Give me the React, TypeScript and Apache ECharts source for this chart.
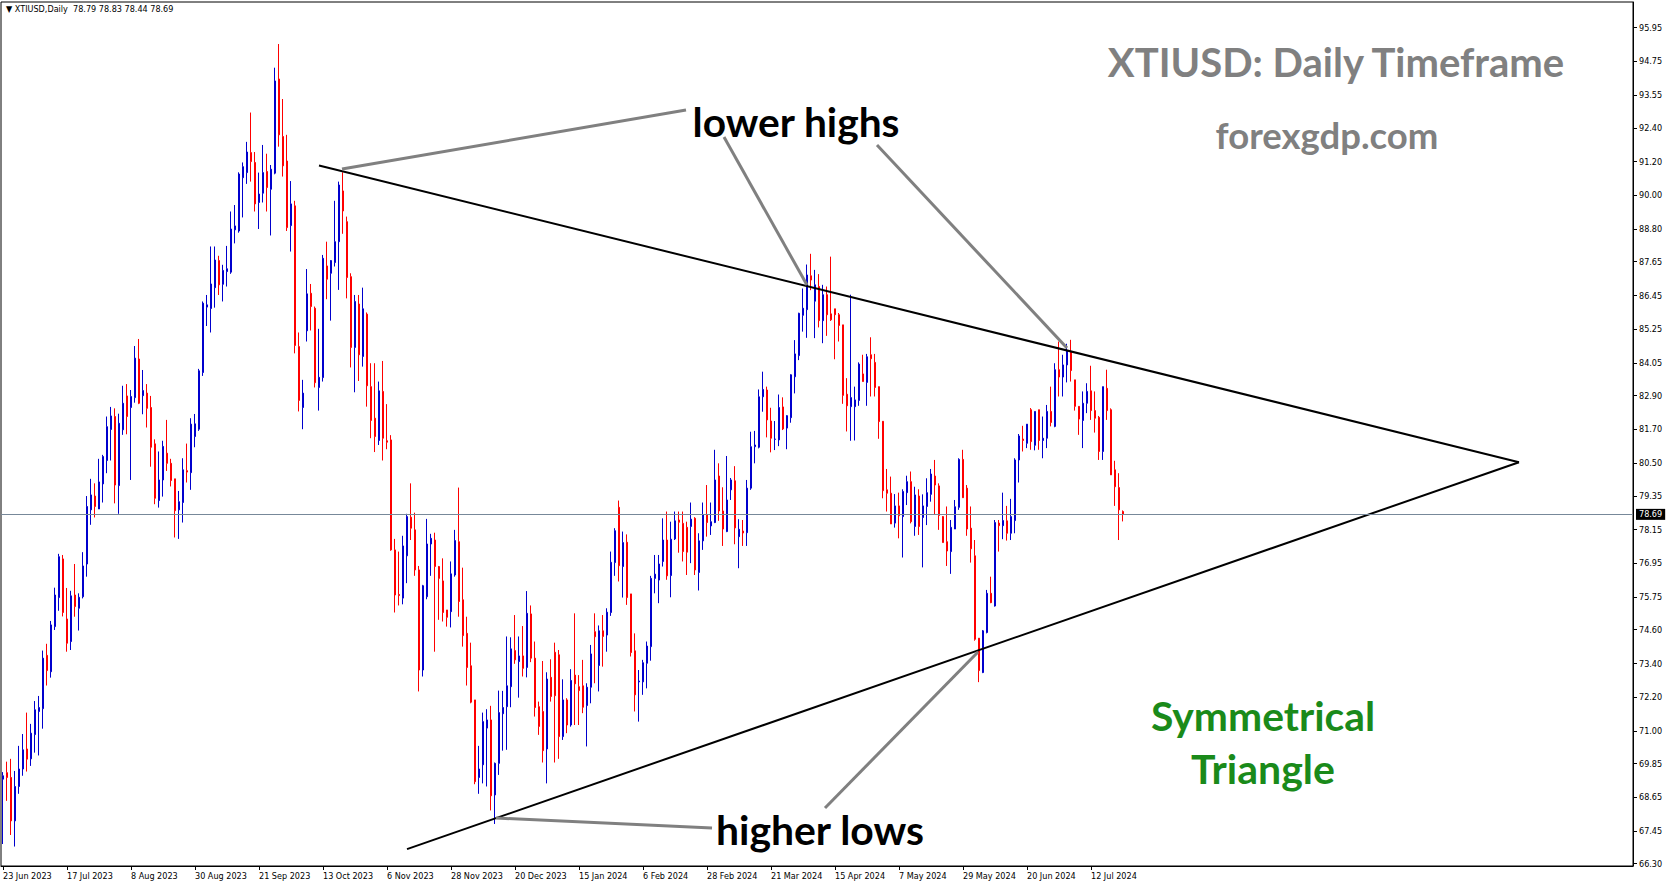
import React, { useEffect, useRef } from "react";
import * as echarts from "echarts";

// X-axis labels (one every 16 daily bars, starting at the first bar)
const tickLabels = [
  "23 Jun 2023", "17 Jul 2023", "8 Aug 2023", "30 Aug 2023", "21 Sep 2023", "13 Oct 2023",
  "6 Nov 2023", "28 Nov 2023", "20 Dec 2023", "15 Jan 2024", "6 Feb 2024", "28 Feb 2024",
  "21 Mar 2024", "15 Apr 2024", "7 May 2024", "29 May 2024", "20 Jun 2024", "12 Jul 2024",
];
const TICK_STEP = 16;

// Price-scale labels
const yTicks = [
  95.95, 94.75, 93.55, 92.4, 91.2, 90.0, 88.8, 87.65, 86.45, 85.25, 84.05, 82.9, 81.7,
  80.5, 79.35, 78.15, 76.95, 75.75, 74.6, 73.4, 72.2, 71.0, 69.85, 68.65, 67.45, 66.3,
];

// Daily candles [open, close, low, high]
const candlesJunSep2023 = [
  [69.30, 69.42, 67.00, 69.55], [69.53, 69.36, 68.53, 69.92], [69.36, 67.82, 67.32, 70.02], [67.82, 69.04, 66.91, 69.59],
  [69.04, 69.66, 68.78, 70.48], [69.66, 70.34, 69.42, 70.90], [70.37, 70.01, 69.57, 71.66], [70.02, 70.93, 69.77, 71.26],
  [70.88, 71.76, 70.24, 72.07], [71.70, 71.84, 70.14, 72.25], [71.80, 73.59, 71.09, 73.86], [73.69, 73.15, 72.62, 74.10],
  [73.11, 74.77, 72.90, 74.91], [74.71, 75.83, 74.59, 76.09], [75.74, 77.19, 75.27, 77.29], [77.11, 75.21, 75.07, 77.25],
  [74.98, 74.12, 73.82, 76.08], [74.18, 75.80, 73.88, 75.98], [75.83, 75.42, 75.06, 76.93], [75.36, 75.75, 74.57, 75.89],
  [75.77, 76.86, 75.71, 77.35], [76.93, 78.97, 76.48, 79.34], [78.85, 79.38, 78.32, 79.95], [79.34, 78.97, 78.58, 79.79],
  [78.88, 79.84, 78.88, 80.66], [79.77, 80.74, 79.11, 80.80], [80.60, 81.80, 80.15, 82.16], [81.70, 82.18, 80.60, 82.50],
  [82.16, 79.73, 79.08, 82.45], [79.71, 81.92, 78.71, 82.26], [81.69, 82.63, 81.51, 83.25], [82.89, 82.16, 81.53, 83.31],
  [82.48, 82.87, 79.91, 83.10], [82.83, 84.23, 82.65, 84.66], [84.20, 82.63, 82.60, 84.91], [82.90, 83.08, 82.24, 83.81],
  [82.99, 82.45, 81.77, 83.31], [82.48, 81.07, 80.38, 82.89], [81.19, 79.26, 79.05, 81.35], [79.18, 79.91, 78.93, 80.92],
  [79.91, 81.10, 79.32, 81.30], [80.86, 80.50, 80.23, 82.04], [80.50, 79.89, 79.68, 80.66], [79.95, 78.82, 77.87, 79.95],
  [78.85, 79.14, 77.82, 79.52], [79.11, 80.27, 78.40, 80.68], [80.24, 80.19, 79.82, 81.20], [80.17, 81.89, 79.56, 82.10],
  [81.45, 81.90, 81.07, 82.25], [81.71, 83.78, 81.65, 83.85], [83.72, 86.18, 83.60, 86.24], [86.04, 86.12, 85.37, 86.47],
  [85.99, 86.86, 85.14, 88.19], [86.73, 87.71, 86.02, 88.19], [87.69, 86.83, 86.47, 87.86], [86.85, 87.34, 86.24, 87.54],
  [87.30, 87.40, 86.77, 88.21], [87.28, 88.81, 87.22, 89.43], [88.78, 88.92, 88.30, 89.66], [88.74, 90.76, 88.68, 90.82],
  [90.63, 91.02, 89.22, 91.17], [90.81, 91.54, 90.41, 91.90], [91.52, 91.20, 90.49, 92.94], [91.17, 89.70, 89.43, 91.54],
  [89.75, 90.05, 88.81, 90.81], [90.08, 90.81, 89.75, 91.79], [90.85, 90.28, 89.43, 91.48], [90.22, 90.93, 88.58, 91.08],
  [90.79, 94.06, 90.75, 94.53], [94.13, 92.15, 91.73, 95.37],
];
const candlesOctDec2023 = [
  [92.09, 91.05, 90.67, 93.42], [91.22, 88.86, 88.74, 92.15], [88.93, 89.70, 88.01, 90.51], [89.63, 84.68, 84.40, 89.81],
  [84.64, 82.73, 82.34, 85.14], [82.48, 82.99, 81.71, 83.46], [85.20, 86.51, 84.82, 87.39], [86.53, 86.06, 85.21, 86.86],
  [86.00, 83.36, 83.19, 86.06], [83.19, 83.55, 82.37, 85.27], [83.54, 87.77, 83.40, 87.89], [87.50, 87.03, 86.32, 88.36],
  [87.24, 87.69, 85.56, 87.71], [87.62, 88.36, 87.48, 89.81], [88.36, 90.37, 86.65, 90.49], [90.16, 89.45, 88.64, 90.82],
  [89.07, 87.09, 86.35, 89.25], [87.12, 84.61, 83.90, 87.24], [84.61, 86.24, 83.02, 86.47], [86.15, 84.35, 83.42, 86.47],
  [84.29, 85.98, 83.93, 86.73], [85.79, 83.25, 82.51, 85.85], [83.22, 82.02, 81.39, 84.05], [82.10, 81.45, 80.90, 84.05],
  [81.31, 83.07, 81.15, 83.40], [83.05, 81.39, 80.60, 84.13], [81.30, 81.25, 81.00, 82.60], [81.33, 77.43, 77.40, 81.50],
  [77.43, 75.83, 75.21, 77.82], [75.85, 75.81, 75.46, 77.37], [75.72, 77.57, 75.50, 77.93], [77.22, 78.61, 76.25, 78.71],
  [78.59, 78.20, 77.78, 79.79], [78.14, 76.72, 76.51, 78.75], [76.72, 73.17, 72.41, 76.86], [73.17, 76.16, 72.94, 76.19],
  [75.77, 77.64, 75.68, 78.53], [77.64, 77.84, 76.51, 78.00], [77.78, 76.84, 73.82, 78.04], [76.84, 76.42, 74.95, 76.86],
  [76.33, 75.21, 74.89, 77.13], [75.30, 75.04, 74.71, 75.30], [75.24, 76.58, 74.68, 77.02], [76.54, 77.76, 76.48, 78.14],
  [77.72, 75.60, 75.06, 79.64], [75.66, 74.39, 74.00, 76.80], [74.47, 73.26, 72.62, 75.06], [73.32, 72.03, 71.99, 74.14],
  [72.11, 69.21, 69.12, 72.11], [69.36, 69.66, 68.78, 70.48], [69.81, 71.34, 69.15, 71.66], [71.11, 71.40, 69.04, 71.78],
  [71.40, 68.71, 68.19, 71.90], [68.74, 69.86, 67.71, 69.89], [69.86, 71.66, 69.45, 72.44], [71.62, 71.84, 70.31, 72.43],
  [71.87, 72.61, 70.34, 74.36], [72.58, 73.92, 71.85, 74.33], [73.86, 73.53, 73.39, 75.12], [73.47, 73.67, 72.19, 74.36],
  [73.67, 73.23, 72.94, 74.73], [73.26, 75.18, 72.91, 75.97], [75.16, 73.59, 73.45, 75.46], [73.59, 71.84, 71.52, 74.18],
  [71.87, 71.17, 70.87, 72.05], [71.70, 70.31, 69.89, 73.49], [70.37, 72.85, 69.15, 73.09], [72.91, 72.23, 72.05, 73.55],
  [73.80, 72.26, 69.89, 74.14], [73.71, 70.81, 70.02, 73.88],
];
const candlesJanApr2024 = [
  [70.81, 72.11, 70.69, 72.84], [72.11, 71.22, 70.93, 72.17], [71.22, 72.80, 71.16, 73.20], [72.99, 72.68, 71.22, 75.18],
  [72.58, 72.44, 71.22, 72.99], [72.61, 71.85, 71.64, 73.53], [71.91, 72.56, 70.46, 72.70], [72.56, 73.74, 71.99, 74.06],
  [74.53, 74.35, 72.70, 75.18], [73.33, 74.56, 72.41, 74.75], [74.56, 74.36, 73.29, 75.12], [74.41, 75.22, 73.82, 75.36],
  [75.21, 76.99, 75.09, 77.37], [76.98, 78.11, 76.51, 78.20], [78.94, 76.87, 76.31, 79.18], [76.84, 77.69, 75.74, 78.08],
  [77.70, 75.74, 75.48, 77.98], [75.87, 73.79, 73.65, 75.87], [73.85, 72.29, 71.70, 74.47], [72.75, 72.78, 71.34, 73.17],
  [72.75, 73.43, 72.29, 73.53], [73.41, 74.02, 72.52, 74.18], [74.00, 76.42, 73.50, 76.51], [76.42, 76.57, 75.89, 77.25],
  [76.36, 76.93, 75.54, 77.25], [77.02, 77.78, 76.84, 78.55], [77.78, 76.51, 76.37, 78.79], [76.52, 77.81, 75.75, 78.43],
  [77.82, 78.46, 77.78, 78.79], [78.49, 78.41, 77.33, 78.79], [78.37, 77.37, 77.02, 78.79], [78.23, 77.35, 76.54, 78.43],
  [78.26, 78.52, 76.96, 79.11], [78.55, 76.72, 76.54, 78.59], [76.63, 77.75, 75.99, 78.02], [77.75, 78.67, 77.43, 79.11],
  [78.67, 78.40, 77.90, 79.73], [78.28, 78.43, 77.96, 79.11], [78.40, 79.91, 78.38, 80.98], [80.05, 78.81, 78.46, 80.50],
  [78.81, 78.17, 77.57, 79.65], [78.08, 79.20, 78.06, 80.76], [79.56, 79.91, 79.20, 79.98], [79.88, 78.21, 77.63, 80.40],
  [77.90, 78.16, 76.78, 78.52], [78.10, 78.03, 77.57, 78.49], [78.04, 79.62, 77.57, 79.91], [79.62, 81.09, 79.56, 81.62],
  [81.09, 81.15, 80.50, 81.65], [81.07, 82.86, 81.03, 83.12], [82.86, 83.12, 82.33, 83.75], [83.10, 82.04, 81.42, 83.22],
  [82.00, 81.39, 80.89, 82.47], [81.35, 81.36, 80.97, 82.00], [81.33, 82.48, 81.11, 82.94], [82.50, 81.72, 81.68, 82.84],
  [81.75, 82.19, 81.00, 82.21], [82.12, 83.64, 81.94, 83.66], [83.57, 84.38, 82.98, 84.87], [84.32, 85.82, 84.16, 85.84],
  [85.75, 86.00, 85.17, 86.70], [85.95, 87.18, 84.95, 87.55], [87.15, 87.00, 86.64, 87.93], [86.25, 86.83, 84.94, 87.36],
  [86.77, 85.56, 85.32, 87.21], [85.56, 86.48, 84.76, 86.83], [86.48, 85.77, 85.02, 86.77], [85.80, 85.59, 85.55, 87.83],
  [85.98, 85.77, 84.19, 85.98], [85.77, 85.39, 84.82, 85.83],
];
const candlesAprJul2024 = [
  [85.41, 82.91, 82.61, 85.41], [82.95, 82.54, 81.63, 83.52], [82.51, 82.83, 81.30, 86.48], [82.51, 82.75, 81.31, 83.22],
  [82.73, 84.02, 82.54, 84.08], [83.67, 83.40, 83.40, 84.35], [83.37, 84.28, 82.54, 84.38], [84.35, 84.21, 82.87, 84.97],
  [84.08, 83.19, 82.87, 84.38], [83.22, 81.98, 81.37, 83.22], [81.99, 79.53, 79.26, 82.00], [79.56, 79.44, 78.79, 80.30],
  [79.44, 78.35, 78.35, 80.03], [78.38, 78.99, 78.22, 79.41], [78.99, 78.64, 77.84, 79.46], [78.61, 79.50, 77.16, 79.58],
  [79.46, 79.85, 79.02, 80.06], [79.85, 78.43, 78.37, 80.21], [78.26, 79.38, 77.93, 79.67], [79.34, 78.26, 77.96, 79.58],
  [78.58, 78.99, 76.81, 79.40], [78.97, 79.46, 78.31, 79.97], [79.40, 80.12, 79.14, 80.30], [80.05, 79.73, 78.67, 80.62],
  [79.70, 78.65, 78.14, 79.79], [78.61, 77.69, 77.69, 78.63], [77.72, 77.39, 76.86, 78.97], [77.37, 78.23, 76.58, 78.49],
  [78.17, 78.96, 78.17, 79.20], [78.94, 80.64, 78.85, 80.68], [80.64, 79.28, 79.28, 80.98], [79.62, 78.17, 77.93, 79.73],
  [78.20, 77.47, 76.98, 78.97], [77.22, 74.26, 74.21, 77.78], [74.30, 73.15, 72.74, 74.30], [73.08, 74.56, 73.06, 74.59],
  [74.50, 75.89, 74.47, 76.01], [75.89, 75.56, 75.54, 76.48], [75.44, 78.40, 75.42, 78.49], [78.38, 78.29, 77.37, 78.49],
  [78.29, 78.47, 77.81, 79.46], [78.46, 78.02, 77.76, 78.99], [78.02, 78.61, 77.78, 79.24], [78.47, 80.62, 78.02, 80.68],
  [80.62, 81.47, 79.82, 81.54], [81.36, 81.31, 80.92, 81.83], [81.21, 81.89, 81.04, 81.89], [82.40, 81.27, 80.98, 82.46],
  [81.14, 82.34, 80.96, 82.34], [82.40, 81.31, 80.98, 82.40], [81.31, 81.39, 80.68, 82.16], [81.39, 82.34, 81.04, 82.57],
  [82.34, 81.95, 81.81, 83.22], [81.81, 83.82, 81.78, 84.05], [83.82, 83.56, 82.87, 84.82], [83.56, 83.99, 82.87, 84.35],
  [83.99, 84.50, 83.37, 84.74], [84.47, 83.79, 83.40, 84.88], [83.46, 82.52, 82.37, 83.46], [82.52, 82.07, 81.51, 82.52],
  [82.02, 82.63, 81.04, 83.05], [82.63, 83.05, 82.28, 83.34], [83.07, 82.37, 82.04, 83.96], [82.37, 82.10, 81.59, 83.05],
  [82.13, 80.92, 80.62, 82.18], [80.92, 83.22, 80.62, 83.22], [83.16, 82.37, 82.04, 83.82], [82.40, 80.09, 80.09, 82.45],
  [80.27, 79.67, 78.99, 80.59], [79.64, 78.85, 77.78, 80.15], [78.79, 78.69, 78.44, 78.83],
];

const lastQuote = { open: 78.79, high: 78.83, low: 78.44, close: 78.69 };

// Trendlines as [bar index, price]
const upperTrend = [[79, 91.06], [379, 80.54]];
const lowerTrend = [[101, 66.82], [379, 80.54]];

const SLOTS = 408; // bar slots visible on the time axis (incl. empty right margin)

const candles = [...candlesJunSep2023, ...candlesOctDec2023, ...candlesJanApr2024, ...candlesAprJul2024];
const categories = Array.from({ length: SLOTS }, (_, i) => String(i));

const AXIS_FONT = "'DejaVu Sans Condensed', 'Liberation Sans', sans-serif";
const NOTE_FONT = "Lato, 'Open Sans', sans-serif";

const showTick = (i: number) => i % TICK_STEP === 0 && i / TICK_STEP < tickLabels.length;

function buildOption(): any {
  const bull = "#0000CD";
  const bear = "#FF0000";
  const noteText = (text: string, x: number, y: number, fill: string, size: number) => ({
    type: "text",
    x,
    y,
    silent: true,
    style: {
      text,
      fill,
      fontFamily: NOTE_FONT,
      fontWeight: "bold",
      fontSize: size,
      align: "center",
      verticalAlign: "middle",
    },
  });
  const grayLine = (x1: number, y1: number, x2: number, y2: number) => ({
    type: "line",
    silent: true,
    shape: { x1, y1, x2, y2 },
    style: { stroke: "#808080", lineWidth: 3 },
    z: 5,
  });
  return {
    animation: false,
    backgroundColor: "#ffffff",
    grid: {
      left: 1,
      top: 2,
      right: 40,
      bottom: 22,
      show: true,
      borderColor: "#000",
      borderWidth: 1,
      backgroundColor: "transparent",
      containLabel: false,
    },
    xAxis: {
      type: "category",
      data: categories,
      boundaryGap: true,
      axisLine: { show: true, lineStyle: { color: "#000", width: 1 } },
      axisTick: {
        show: true,
        alignWithLabel: true,
        interval: (i: number) => showTick(i),
        length: 4,
        lineStyle: { color: "#000" },
      },
      axisLabel: {
        interval: (i: number) => showTick(i),
        formatter: (_v: string, i: number) => (showTick(i) ? tickLabels[i / TICK_STEP] : ""),
        align: "left",
        color: "#000",
        fontSize: 9,
        fontFamily: AXIS_FONT,
        margin: 5,
      },
      splitLine: { show: false },
    },
    yAxis: {
      type: "value",
      position: "right",
      min: 66.22,
      max: 96.86,
      scale: true,
      axisLine: { show: true, lineStyle: { color: "#000", width: 1 } },
      axisTick: {
        show: true,
        inside: false,
        length: 4,
        customValues: yTicks,
        lineStyle: { color: "#000" },
      },
      axisLabel: {
        customValues: yTicks,
        formatter: (v: number) => v.toFixed(2),
        color: "#000",
        fontSize: 9,
        fontFamily: AXIS_FONT,
        margin: 6,
      },
      splitLine: { show: false },
    },
    series: [
      {
        type: "candlestick",
        data: candles,
        barWidth: 2,
        itemStyle: {
          color: bull,
          color0: bear,
          borderColor: bull,
          borderColor0: bear,
          borderWidth: 1,
        },
        markLine: {
          silent: true,
          symbol: "none",
          animation: false,
          data: [{ yAxis: lastQuote.close }],
          lineStyle: { color: "#778899", width: 1, type: "solid" },
          label: {
            show: true,
            position: "end",
            formatter: lastQuote.close.toFixed(2),
            color: "#fff",
            backgroundColor: "#000",
            padding: [1, 3, 1, 3],
            fontSize: 9,
            fontFamily: AXIS_FONT,
            distance: 3,
          },
        },
        z: 2,
      },
      {
        type: "line",
        data: upperTrend,
        symbol: "none",
        silent: true,
        lineStyle: { color: "#000", width: 2 },
        z: 4,
      },
      {
        type: "line",
        data: lowerTrend,
        symbol: "none",
        silent: true,
        lineStyle: { color: "#000", width: 2 },
        z: 4,
      },
    ],
    graphic: [
      {
        type: "text",
        x: 6,
        y: 9,
        silent: true,
        style: {
          text: `▼ XTIUSD,Daily  ${lastQuote.open.toFixed(2)} ${lastQuote.high.toFixed(2)} ${lastQuote.low.toFixed(2)} ${lastQuote.close.toFixed(2)}`,
          fill: "#000",
          fontFamily: AXIS_FONT,
          fontSize: 9,
          align: "left",
          verticalAlign: "middle",
        },
      },
      grayLine(342, 169, 686, 110),
      grayLine(724, 137, 807, 285),
      grayLine(877, 145, 1067, 348),
      grayLine(496, 818, 712, 828),
      grayLine(825, 808, 978, 652),
      noteText("XTIUSD: Daily Timeframe", 1336, 62, "#808080", 40),
      noteText("forexgdp.com", 1327, 135, "#808080", 36.5),
      noteText("lower highs", 796, 121, "#000000", 40.7),
      noteText("higher lows", 820, 829, "#000000", 40.9),
      noteText("Symmetrical", 1263, 715, "#1A8A1A", 40.8),
      noteText("Triangle", 1263, 768, "#1A8A1A", 41),
    ],
  };
}

export default function App() {
  const ref = useRef<HTMLDivElement>(null);
  useEffect(() => {
    if (!ref.current) return;
    const chart = echarts.init(ref.current, undefined, { renderer: "svg" });
    chart.setOption(buildOption());
    return () => chart.dispose();
  }, []);
  return (
    <div
      ref={ref}
      style={{ position: "absolute", left: 0, top: 0, width: 1673, height: 888, background: "#fff" }}
    />
  );
}
